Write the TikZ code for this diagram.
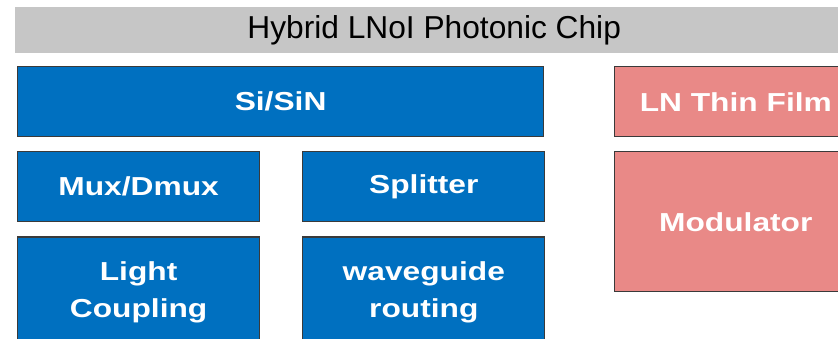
\documentclass[tikz,border=0pt]{standalone}
\usepackage{fontspec}
\setmainfont{Liberation Sans}
\newfontfamily\boxfont[FakeStretch=1.22]{Liberation Sans Bold}
\usepackage{xcolor}
\usetikzlibrary{positioning}
\definecolor{chipblue}{HTML}{0070C0}
\definecolor{chippink}{HTML}{E98987}
\definecolor{titlegray}{HTML}{C6C6C6}
\definecolor{edge}{HTML}{3A3A3A}
\tikzset{
  block/.style ={draw=edge, line width=1.2pt, fill=chipblue, text=white,
                 minimum width=242pt, minimum height=70pt, align=center,
                 inner sep=2pt, font=\fontsize{26}{37}\boxfont},
  blocksi/.style={block},
  blockln/.style={block, fill=chippink},
  header/.style ={fill=titlegray, minimum height=46pt, minimum width=838pt,
                 inner sep=0pt, font=\fontsize{31.7}{36}\selectfont}
}
\begin{document}
\begin{tikzpicture}[node distance=14pt and 42pt]
  \clip (0pt,0pt) rectangle (838pt,-338pt);

  % Titre
  \node[header, anchor=north west] (title) at (15pt,-7pt) {Hybrid LNoI Photonic Chip};

  % Bloc Si/SiN
  \node[blocksi, minimum width=526pt, anchor=north west] (sisin) at (17pt,-66pt) {Si/SiN};
  \node[blocksi, below right=14pt and 0pt of sisin.south west] (mux) {Mux/Dmux};
  \node[blocksi, right=of mux] (split) {Splitter};
  \node[blocksi, below=of mux, minimum height=110pt] (coupl) {Light\\Coupling};
  \node[blocksi, below=of split, minimum height=110pt] (route) {waveguide\\routing};

  % Bloc LN
  \node[blockln, right=70pt of sisin] (lnfilm) {LN Thin Film};
  \node[blockln, below=of lnfilm, minimum height=140pt] (mod) {Modulator};
\end{tikzpicture}
\end{document}
